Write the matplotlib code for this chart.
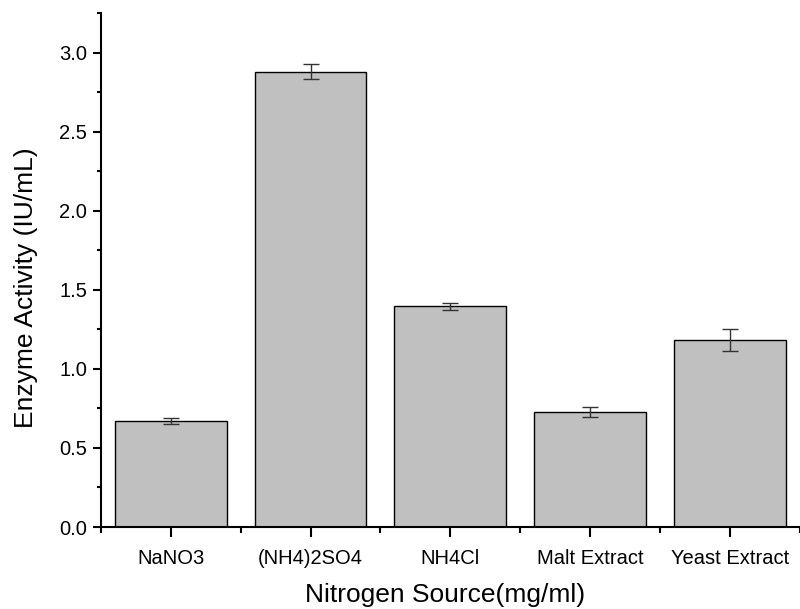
import matplotlib.pyplot as plt
from matplotlib.ticker import MultipleLocator, FixedLocator
import numpy as np

plt.rcParams['font.family'] = ['Liberation Sans', 'DejaVu Sans']

sources = ["NaNO3", "(NH4)2SO4", "NH4Cl", "Malt Extract", "Yeast Extract"]
activity = [0.67, 2.88, 1.395, 0.727, 1.183]
errs = [0.02, 0.05, 0.022, 0.03, 0.067]

fig = plt.figure(figsize=(8, 6.09), dpi=100)
ax = fig.add_axes([0.126, 0.1346, 0.874, 0.844])

x = np.arange(1, len(sources) + 1)
ax.bar(x, activity, width=0.8, color="#c0c0c0", edgecolor="black", linewidth=1.0)
ax.errorbar(x, activity, yerr=errs, fmt="none", ecolor="#333333",
            elinewidth=1.0, capsize=6, capthick=1.0)

ax.set_xlim(0.5, 5.5)
ax.set_ylim(0, 3.25)
ax.set_xticks(x)
ax.set_xticklabels(sources)
ax.xaxis.set_minor_locator(FixedLocator(np.arange(0.5, 6.0, 1.0)))
ax.yaxis.set_major_locator(MultipleLocator(0.5))
ax.yaxis.set_minor_locator(MultipleLocator(0.25))
ax.yaxis.set_major_formatter(plt.FormatStrFormatter("%.1f"))

for s in ["top", "right"]:
    ax.spines[s].set_visible(False)
for s in ["left", "bottom"]:
    ax.spines[s].set_linewidth(1.5)

ax.tick_params(axis="both", which="major", direction="out", length=6, width=1.5, labelsize=14.5)
ax.tick_params(axis="both", which="minor", direction="out", length=3, width=1.5)
ax.tick_params(axis="x", which="major", length=7.5, pad=8)
ax.tick_params(axis="x", which="minor", length=4.5)
ax.tick_params(axis="y", which="major", pad=4)

ax.set_xlabel("Nitrogen Source(mg/ml)", fontsize=19)
ax.set_ylabel("Enzyme Activity (IU/mL)", fontsize=19)
# label positions as in the original (slightly off-centre)
ax.xaxis.set_label_coords(0.492, -0.108)
ax.yaxis.set_label_coords(-0.09, 0.465)

plt.savefig("out.png", dpi=100)
